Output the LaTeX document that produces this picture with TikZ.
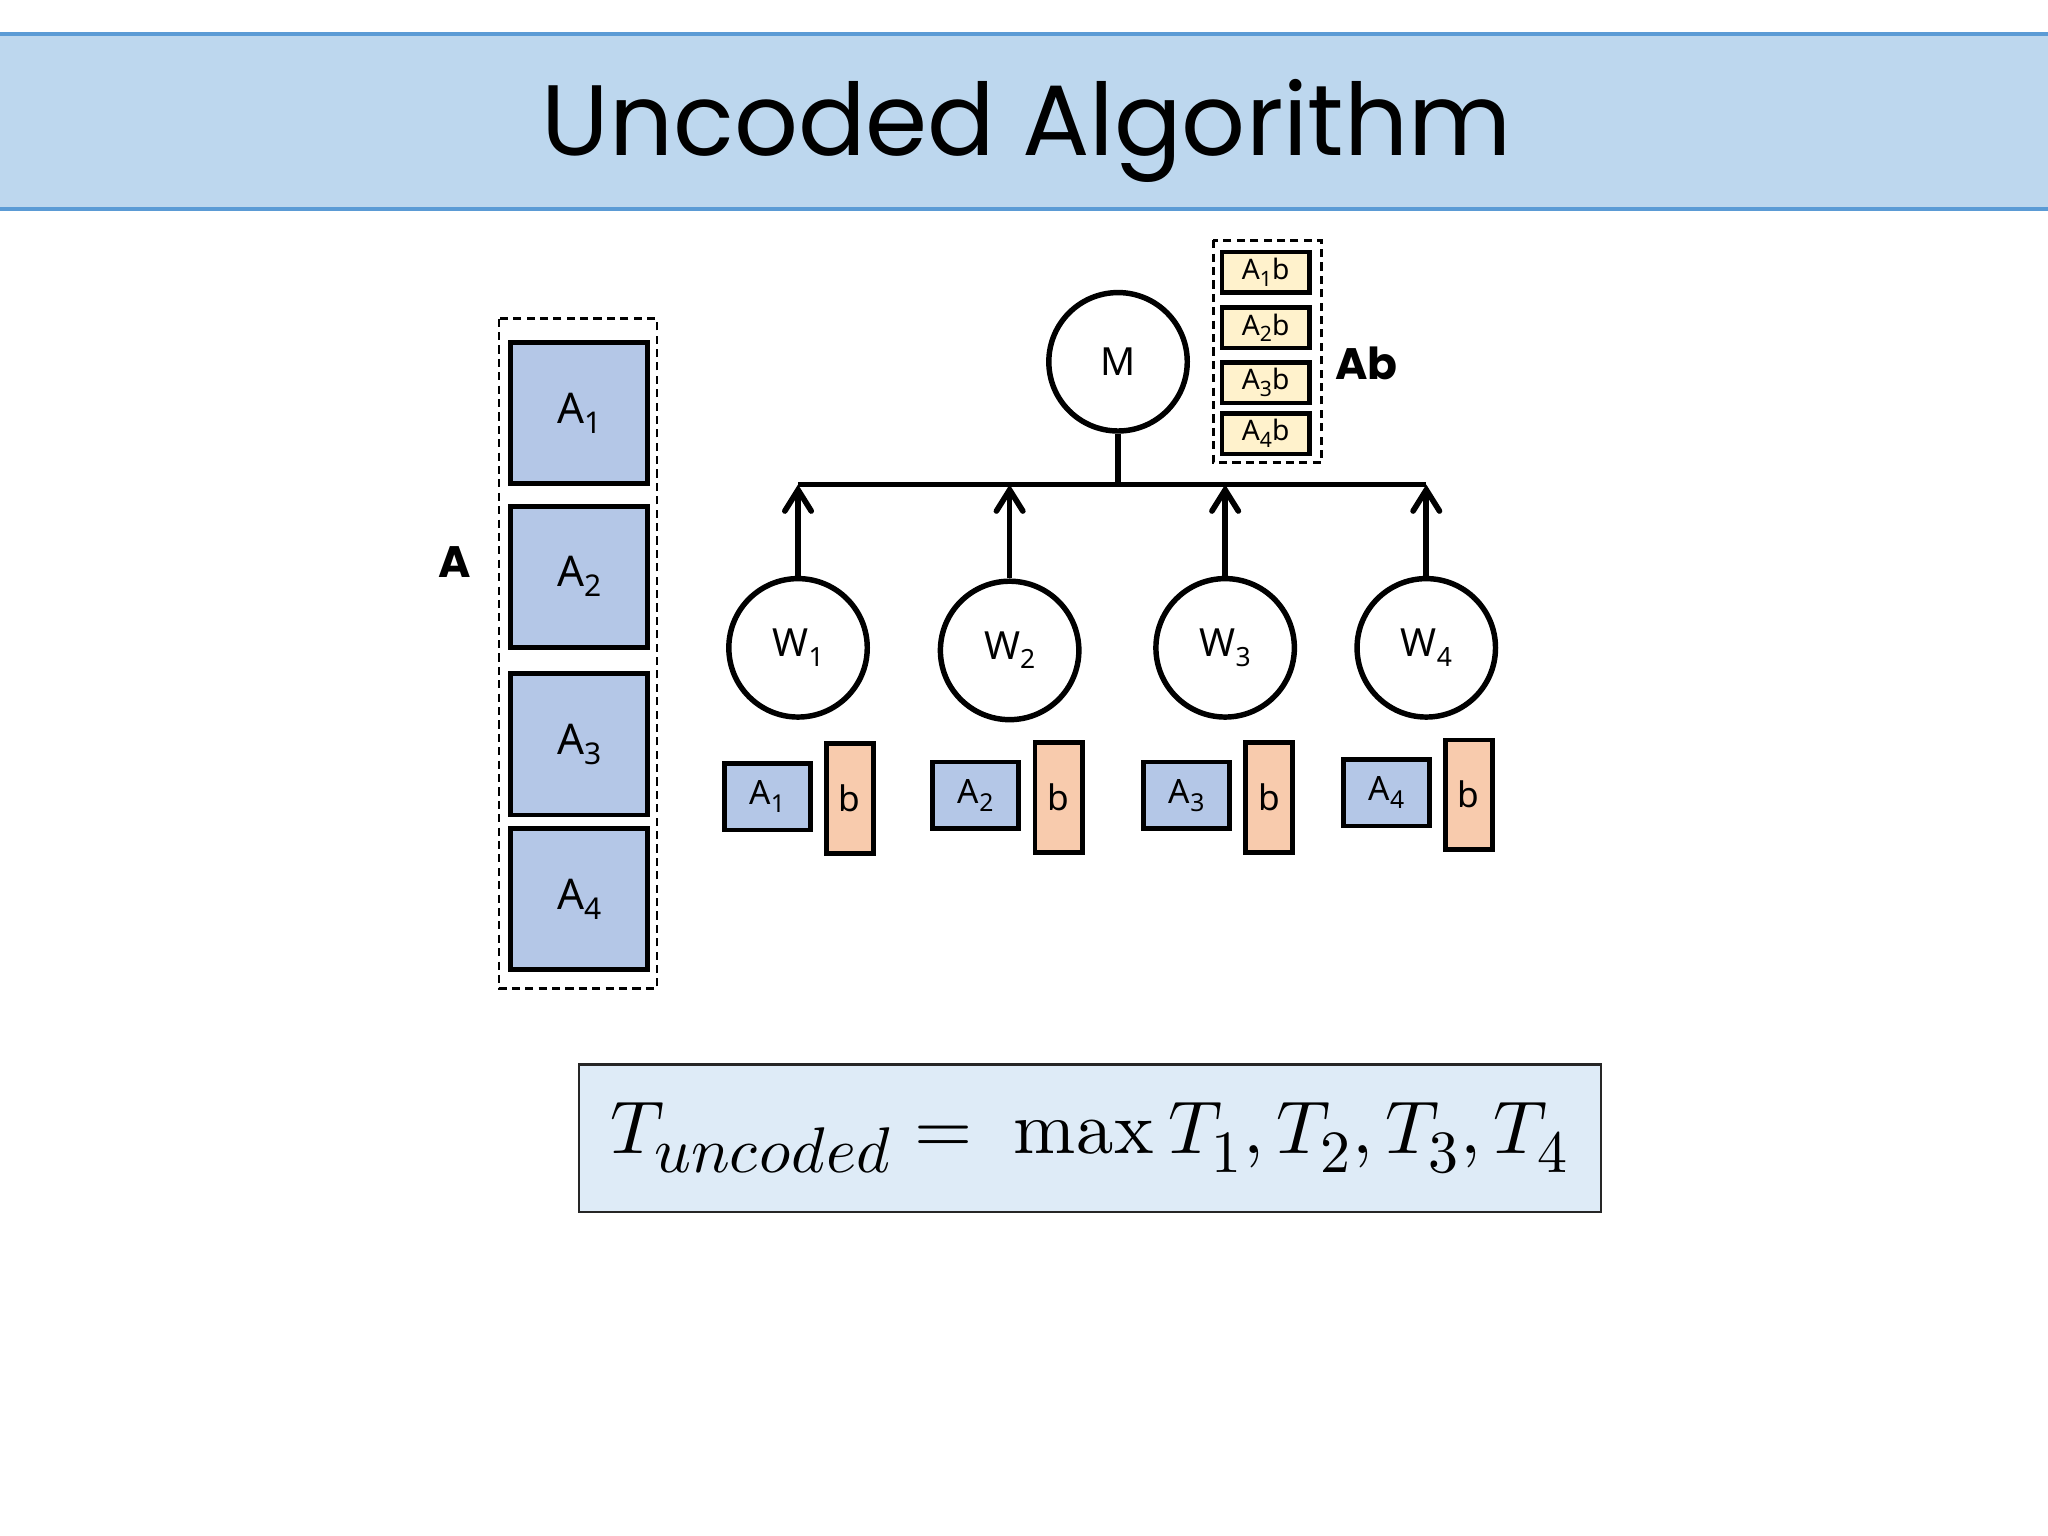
\documentclass[tikz,border=0pt]{standalone}
\usepackage{amsmath}
\usepackage{fontspec}
\usepackage{unicode-math}
\setmainfont{Noto Sans}
\setmathfont{Latin Modern Math}
\newfontfamily\titlefont{Poppins}
\usetikzlibrary{arrows.meta}
\definecolor{bandblue}{HTML}{BDD7EE}
\definecolor{bandline}{HTML}{5B9BD5}
\definecolor{blockblue}{HTML}{B4C7E7}
\definecolor{vecorange}{HTML}{F8CBAD}
\definecolor{resyellow}{HTML}{FFF2CC}
\definecolor{eqblue}{HTML}{DEEBF7}
\newcommand\idx[2][8]{\raisebox{-0.45ex}{\fontsize{#1}{#1}\selectfont #2}}
\newcommand\eqsub[2][17]{\mbox{\fontsize{#1}{#1}\selectfont$#2$}}
\def\pu{0.3706pt}
\tikzset{
    block/.style={draw, line width=1.4pt, fill=blockblue, inner sep=0pt,
        minimum width={105*\pu}, minimum height={108*\pu}, font=\fontsize{12}{12}\selectfont},
    smallblock/.style={draw, line width=1.35pt, fill=blockblue, inner sep=0pt,
        minimum width={66*\pu}, minimum height={51*\pu}, font=\fontsize{9.5}{9.5}\selectfont},
    vecbox/.style={draw, line width=1.35pt, fill=vecorange, inner sep=0pt,
        minimum width={36*\pu}, minimum height={84*\pu}, font=\fontsize{10}{10}\selectfont},
    resbox/.style={draw, line width=1.3pt, fill=resyellow, inner sep=0pt,
        minimum width={67*\pu}, minimum height={31*\pu}, font=\fontsize{8}{8}\selectfont},
    worker/.style={draw, circle, line width=1.55pt, inner sep=0pt,
        minimum size={106*\pu}, font=\fontsize{11}{11}\selectfont},
    groupbox/.style={dashed, line width=0.8pt, dash pattern=on 2.3pt off 1.5pt},
    uparrow/.style={line width=1.6pt, -{Straight Barb[length=6pt,width=7.5pt,line cap=round]}},
    biglabel/.style={font=\titlefont\bfseries\fontsize{12.5}{12.5}\selectfont}
}
\begin{document}
\begin{tikzpicture}[x=\pu, y=-\pu]
    \useasboundingbox (0,0) rectangle (1568,1176);
    \fill[bandblue] (0,26) rectangle (1568,160);
    \draw[bandline, line width=1.1pt] (0,26) -- (1568,26);
    \draw[bandline, line width=1.1pt] (0,160) -- (1568,160);
    \node[anchor=base, font=\titlefont\fontsize{28.4}{28.4}\selectfont] (title) at (786,119) {Uncoded Algorithm};

    \draw[groupbox] (382,244) rectangle (503,757);
    \node[block] (A1) at (443.5,316.5) {A\idx[8.5]{1}};
    \node[block] (A2) at (443.5,441.5) {A\idx[8.5]{2}};
    \node[block] (A3) at (443.5,570) {A\idx[8.5]{3}};
    \node[block] (A4) at (443.5,688.5) {A\idx[8.5]{4}};
    \node[biglabel] (Alabel) at (348,430) {A};

    \draw[groupbox] (929,184) rectangle (1012,354);
    \node[resbox] (A1b) at (969,208.5) {A\idx[6]{1}b};
    \node[resbox] (A2b) at (969,251) {A\idx[6]{2}b};
    \node[resbox] (A3b) at (969,293) {A\idx[6]{3}b};
    \node[resbox] (A4b) at (969,332) {A\idx[6]{4}b};
    \node[biglabel] (Ablabel) at (1046,278) {Ab};

    \node[worker] (M) at (856,277) {M};
    \node[worker] (W1) at (611,496) {W\idx[7.5]{1}};
    \node[worker] (W2) at (773,498) {W\idx[7.5]{2}};
    \node[worker] (W3) at (938,496) {W\idx[7.5]{3}};
    \node[worker] (W4) at (1092,496) {W\idx[7.5]{4}};

    \coordinate (bus) at (856,371);
    \draw[line width=1.6pt] (W1.north |- bus) -- (W4.north |- bus);
    \draw[line width=1.6pt] (M.south) -- (M.south |- bus);
    \draw[uparrow] (W1.north) -- (W1.north |- bus);
    \draw[uparrow] (W2.north) -- (W2.north |- bus);
    \draw[uparrow] (W3.north) -- (W3.north |- bus);
    \draw[uparrow] (W4.north) -- (W4.north |- bus);

    \node[smallblock] (s1) at (587.5,610) {A\idx[7]{1}};
    \node[vecbox] (b1) at (650.5,611.5) {b};
    \node[smallblock] (s2) at (747,609) {A\idx[7]{2}};
    \node[vecbox] (b2) at (810.5,610.5) {b};
    \node[smallblock] (s3) at (908.5,609) {A\idx[7]{3}};
    \node[vecbox] (b3) at (971.5,610.5) {b};
    \node[smallblock] (s4) at (1061.5,607) {A\idx[7]{4}};
    \node[vecbox] (b4) at (1124.5,608.5) {b};

    \node[draw=black!85, line width=0.6pt, fill=eqblue, inner sep=0pt,
        minimum width={783*\pu}, minimum height={113*\pu},
        font=\fontsize{21.2}{21.2}\selectfont] (eq) at (834.5,871.5)
        {$T_{\eqsub[18.3]{uncoded}} =\; \mathop{\symup{max}}\nolimits T_{\eqsub{1}}, T_{\eqsub{2}}, T_{\eqsub{3}}, T_{\eqsub{4}}$};
\end{tikzpicture}
\end{document}
